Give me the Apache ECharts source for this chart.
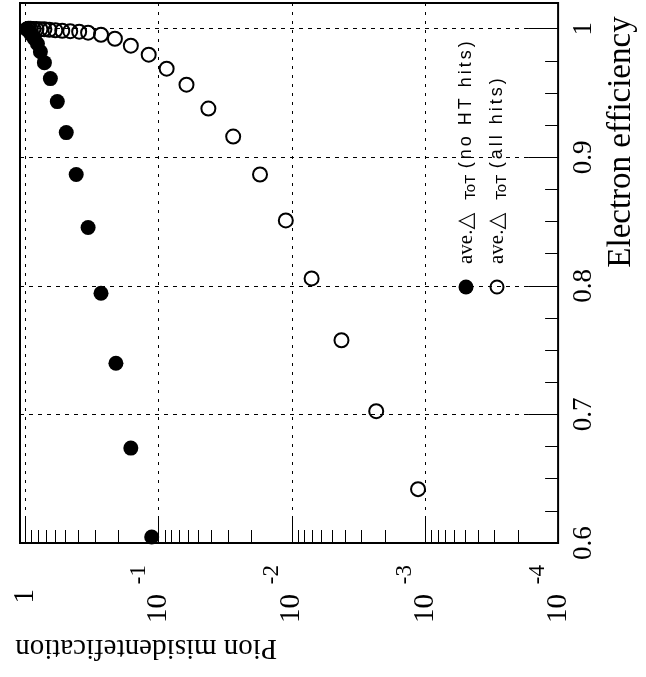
<!DOCTYPE html>
<html><head><meta charset="utf-8">
<script src="https://cdn.jsdelivr.net/npm/echarts@6/dist/echarts.min.js"></script>
<style>html,body{margin:0;padding:0;background:#fff}#c{width:646px;height:677px}</style>
</head><body><div id="c"></div>
<script>
// ---- data ----
const legendNoHT = 'ave.△ ToT (no HT hits)';
const legendAll = 'ave.△ ToT (all hits)';
// filled markers: ave. dToT (no HT hits)
const noHTMisid = [0.1128, 0.1618, 0.2094, 0.2710, 0.3388, 0.4162, 0.4943, 0.5772, 0.6506, 0.7213, 0.7730, 0.8135, 0.8567, 0.9020, 0.9336, 0.9662, 0.983];
const noHTEff   = [0.6047, 0.6738, 0.7398, 0.7942, 0.8454, 0.8866, 0.9192, 0.9433, 0.9612, 0.9736, 0.9821, 0.9883, 0.9922, 0.9953, 0.9977, 0.9992, 0.9998];
// open markers: ave. dToT (all hits)
const allMisid = [0.001127, 0.002323, 0.004236, 0.0071, 0.01109, 0.01733, 0.02756, 0.04233, 0.0618, 0.0871, 0.1188, 0.1618, 0.2131, 0.2710, 0.3388, 0.3954, 0.4615, 0.5297, 0.5971, 0.6622, 0.7213, 0.7730, 0.8278, 0.8716, 0.9177, 0.9497];
const allEff   = [0.6419, 0.7025, 0.7577, 0.8058, 0.8509, 0.8866, 0.9161, 0.9379, 0.9565, 0.9689, 0.9798, 0.9868, 0.9922, 0.9953, 0.9969, 0.9977, 0.9981, 0.9984, 0.9988, 0.9992, 0.9995, 0.9996, 0.9998, 0.9998, 0.9999, 1.0];
// axis ticks / labels
const effTickLabels = [0.6, 0.7, 0.8, 0.9, 1.0];
const effMinorTicks = [0.625, 0.65, 0.675, 0.725, 0.75, 0.775, 0.825, 0.85, 0.875, 0.925, 0.95, 0.975];
const misidDecades = [1, 0.1, 0.01, 0.001, 0.0001];
const misidExponents = ['-1', '-2', '-3', '-4'];
const misidMinorTicks = [0.9,0.8,0.7,0.6,0.5,0.4,0.3,0.2, 0.09,0.08,0.07,0.06,0.05,0.04,0.03,0.02, 0.009,0.008,0.007,0.006,0.005,0.004,0.003,0.002, 0.0009,0.0008,0.0007,0.0006,0.0005,0.0004,0.0003,0.0002];

const serif = '"Liberation Serif","Times New Roman",serif';
const sans = '"Liberation Sans",Arial,sans-serif';

function isDecade(v) {
  const l = Math.log10(v);
  return Math.abs(l - Math.round(l)) < 1e-6 && l < 1e-6;
}
function zip(a, b) { return a.map((v, i) => [v, b[i]]); }

const chart = echarts.init(document.getElementById('c'), null, {renderer: 'canvas'});
const legendRich = {
  a: {fontFamily: serif, fontSize: 21, fill: '#000', lineHeight: 24},
  d: {fontFamily: '"DejaVu Sans"', fontSize: 22, fill: '#000', padding: [0, 13, 0, 0]},
  s: {fontFamily: sans, fontSize: 15, fill: '#000', verticalAlign: 'bottom', lineHeight: 17, padding: [0, 5, 0, 0]},
  c: {fontFamily: sans, fontSize: 18, fill: '#000', padding: [0, 1.5, 0, 1.5]}
};
function legendText(label) {
  const m = label.match(/^(ave\.)(△) (ToT) (.*)$/);
  const spaced = m[4].split('').map(ch => '{c|' + ch + '}').join('');
  return '{a|' + m[1] + '}{d|' + m[2] + '}{s|' + m[3] + '}' + spaced;
}

const option = {
  backgroundColor: '#fff',
  animation: false,
  grid: {left: 20, top: 3, right: 84, bottom: 134, show: true, borderColor: '#000', borderWidth: 2, backgroundColor: 'transparent'},
  xAxis: [
    {
      type: 'log', logBase: 10, inverse: true, min: 0.0001, max: 1.1, position: 'bottom',
      axisLine: {show: false},
      axisTick: {show: true, inside: true, length: 27, lineStyle: {color: '#000', width: 1}},
      axisLabel: {
        show: true, rotate: 90, margin: 46,
        formatter: function (v) {
          if (!isDecade(v)) return '';
          return Math.abs(v - 1) < 1e-6 ? '{o|1}' : '{b|10}';
        },
        rich: {
          o: {fontFamily: serif, fontSize: 29, color: '#000'},
          b: {fontFamily: serif, fontSize: 29, color: '#000', padding: [0, 5, 0, 0]}
        }
      },
      splitLine: {show: true, lineStyle: {color: '#000', type: [3, 6], width: 1}},
      name: 'Pion misidentefication', nameLocation: 'middle', nameRotate: 180, nameGap: 90,
      nameTextStyle: {fontFamily: serif, fontSize: 29, color: '#000', padding: [0, 0, 0, 286]}
    },
    {
      type: 'log', logBase: 10, inverse: true, min: 0.0001, max: 1.1, position: 'bottom', offset: 0,
      axisLine: {show: false},
      splitLine: {show: false},
      axisTick: {show: true, inside: true, length: 13, customValues: misidMinorTicks, lineStyle: {color: '#000', width: 1}},
      axisLabel: {
        show: true, rotate: 90, margin: 22,
        customValues: misidDecades.slice(1),
        formatter: function (v) {
          const k = Math.round(-Math.log10(v));
          return '{s|' + misidExponents[k - 1] + '}';
        },
        padding: [0, 0, 40, 0],
        rich: {s: {fontFamily: serif, fontSize: 23, color: '#000'}}
      }
    }
  ],
  yAxis: [
    {
      type: 'value', min: 0.6, max: 1.02, interval: 0.1, position: 'right',
      axisLine: {show: false},
      axisTick: {show: true, inside: true, length: 30, lineStyle: {color: '#000', width: 1}},
      axisLabel: {
        show: true, rotate: 90, margin: 12, fontFamily: serif, fontSize: 27, color: '#000',
        formatter: function (v) {
          for (const t of effTickLabels) if (Math.abs(v - t) < 1e-6) return t === 1 ? '1' : String(t);
          return '';
        }
      },
      splitLine: {show: true, lineStyle: {color: '#000', type: [4, 5], width: 1}},
      name: 'Electron efficiency', nameLocation: 'middle', nameRotate: 90, nameGap: 40,
      nameTextStyle: {fontFamily: serif, fontSize: 33, color: '#000', padding: [0, 0, 0, 262]}
    },
    {
      type: 'value', min: 0.6, max: 1.02, position: 'right', offset: 0,
      axisLine: {show: false}, splitLine: {show: false}, axisLabel: {show: false},
      axisTick: {show: true, inside: true, length: 13, customValues: effMinorTicks, lineStyle: {color: '#000', width: 1}}
    }
  ],
  series: [
    {
      name: legendNoHT, type: 'scatter', xAxisIndex: 0, yAxisIndex: 0,
      symbol: 'circle', symbolSize: 15,
      itemStyle: {color: '#000', opacity: 1},
      data: zip(noHTMisid, noHTEff)
    },
    {
      name: legendAll, type: 'scatter', xAxisIndex: 0, yAxisIndex: 0,
      symbol: 'circle', symbolSize: 14,
      itemStyle: {color: 'rgba(0,0,0,0)', borderColor: '#000', borderWidth: 2, opacity: 1},
      data: zip(allMisid, allEff)
    }
  ],
  graphic: [
    {
      type: 'group', x: 466, y: 287, rotation: Math.PI / 2,
      children: [
        {type: 'circle', shape: {cx: 0, cy: 0, r: 7.5}, style: {fill: '#000'}},
        {type: 'text', x: 23, y: 0, style: {text: legendText(legendNoHT), rich: legendRich, align: 'left', verticalAlign: 'middle', fill: '#000'}}
      ]
    },
    {
      type: 'group', x: 497, y: 287, rotation: Math.PI / 2,
      children: [
        {type: 'circle', shape: {cx: 0, cy: 0, r: 6.5}, style: {fill: 'none', stroke: '#000', lineWidth: 2}},
        {type: 'text', x: 23, y: 0, style: {text: legendText(legendAll), rich: legendRich, align: 'left', verticalAlign: 'middle', fill: '#000'}}
      ]
    }
  ]
};
chart.setOption(option);
</script>
</body></html>
